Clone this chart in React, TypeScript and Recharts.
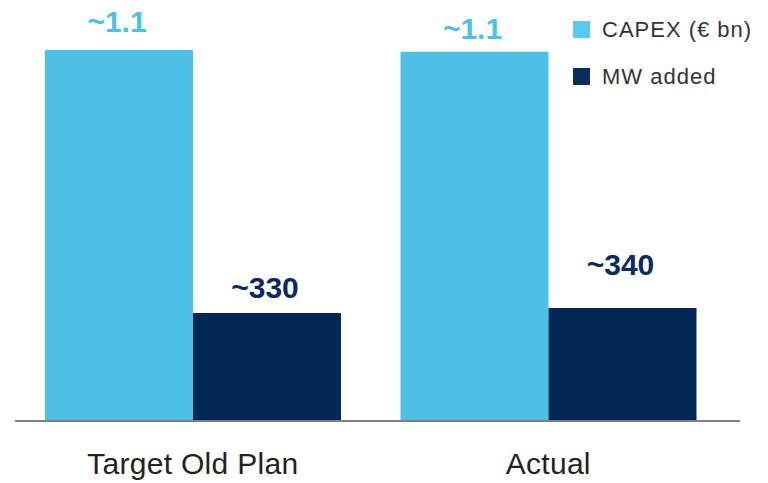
import { BarChart, Bar, XAxis, YAxis, LabelList } from 'recharts';

const categories = ['Target Old Plan', 'Actual'];
const capexValues = [1.1, 1.095];
const mwValues = [330, 345];
const capexLabels = ['~1.1', '~1.1'];
const mwLabels = ['~330', '~340'];
const legendItems = ['CAPEX (€ bn)', 'MW added'];

const CAPEX_COLOR = '#4DC0E6';
const MW_COLOR = '#002855';
const FONT = '"Liberation Sans", Arial, sans-serif';

const data = categories.map((name, i) => ({
  name,
  capex: capexValues[i],
  mw: mwValues[i],
  capexLabel: capexLabels[i],
  mwLabel: mwLabels[i],
}));

// label distance above each bar, per category
const capexOffsets = [18, 13];
const mwOffsets = [15, 33];

const makeLabel = (color: string, offsets: number[]) => (props: any) => {
  const { x, y, width, index, value } = props;
  return (
    <text
      x={Number(x) + Number(width) / 2 - 2}
      y={Number(y) - offsets[index]}
      textAnchor="middle"
      fill={color}
      fontFamily={FONT}
      fontWeight="bold"
      fontSize={30}
    >
      {value}
    </text>
  );
};

const legendColors = ['#55CBF2', '#0A2D5E'];

const LegendBox = () => (
  <div style={{ position: 'absolute', left: 573, top: 21, fontFamily: FONT, fontSize: 22, letterSpacing: 1, color: '#333' }}>
    {legendItems.map((label, i) => (
      <div key={i} style={{ display: 'flex', alignItems: 'center', height: 17, marginBottom: i === 0 ? 30 : 0 }}>
        <span style={{ width: 17, height: 17, background: legendColors[i], display: 'inline-block', marginRight: 12 }} />
        <span>{label}</span>
      </div>
    ))}
  </div>
);

export default function App() {
  return (
    <div style={{ position: 'absolute', left: 0, top: 0, width: 768, height: 483, background: '#fff' }}>
      <BarChart
        width={768}
        height={483}
        data={data}
        margin={{ top: 40, right: 28, bottom: 0, left: 15 }}
        barGap={0}
        barSize={148}
      >
        <XAxis
          dataKey="name"
          height={62}
          tickLine={false}
          axisLine={{ stroke: '#808080', strokeWidth: 2 }}
          padding={{ left: 0, right: 14 }}
          tickMargin={26}
          tick={{ fill: '#222', fontSize: 30, fontFamily: FONT, letterSpacing: 0.3 }}
        />
        <YAxis yAxisId="capex" hide domain={[0, 1.13]} />
        <YAxis yAxisId="mw" hide domain={[0, 1164]} />
        <Bar yAxisId="capex" dataKey="capex" name="CAPEX (€ bn)" fill={CAPEX_COLOR} isAnimationActive={false}>
          <LabelList dataKey="capexLabel" content={makeLabel(CAPEX_COLOR, capexOffsets)} />
        </Bar>
        <Bar yAxisId="mw" dataKey="mw" name="MW added" fill={MW_COLOR} isAnimationActive={false}>
          <LabelList dataKey="mwLabel" content={makeLabel('#0D2A5E', mwOffsets)} />
        </Bar>
      </BarChart>
      <LegendBox />
    </div>
  );
}
